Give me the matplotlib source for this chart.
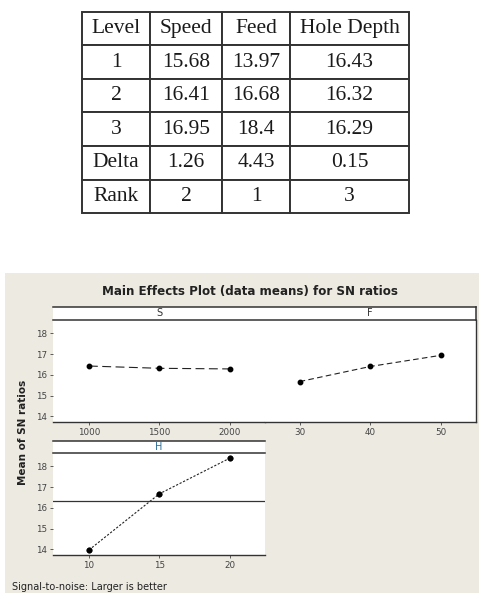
import numpy as np
import matplotlib
matplotlib.use("Agg")
import matplotlib.pyplot as plt
from matplotlib.patches import Rectangle

# table data
col_labels = ["Level", "Speed", "Feed", "Hole Depth"]
row_labels = ["1", "2", "3", "Delta", "Rank"]
speed = ["15.68", "16.41", "16.95", "1.26", "2"]
feed = ["13.97", "16.68", "18.4", "4.43", "1"]
hole_depth = ["16.43", "16.32", "16.29", "0.15", "3"]

# main effects plot data (as drawn)
s_levels = [1000, 1500, 2000]
s_means = [16.43, 16.32, 16.29]
f_levels = [30, 40, 50]
f_means = [15.68, 16.41, 16.95]
h_levels = [10, 15, 20]
h_means = [13.97, 16.68, 18.4]
y_ticks = [14, 15, 16, 17, 18]

W, H = 481, 593


def px(x0, y0, x1, y1):
    return [x0 / W, 1 - y1 / H, (x1 - x0) / W, (y1 - y0) / H]


fig = plt.figure(figsize=(W / 100, H / 100), dpi=100)
fig.patch.set_facecolor("white")

# ---- table ----
tax = fig.add_axes(px(82, 12, 409, 213))
tax.axis("off")
cells = [[r, a, b, c] for r, a, b, c in zip(row_labels, speed, feed, hole_depth)]
tbl = tax.table(cellText=cells, colLabels=col_labels, cellLoc="center",
                bbox=[0, 0, 1, 1],
                colWidths=[68, 72, 68, 119])
tbl.auto_set_font_size(False)
for (r, c), cell in tbl.get_celld().items():
    cell.set_linewidth(1.4)
    cell.set_edgecolor("#333333")
    cell.get_text().set_fontfamily("Liberation Serif")
    cell.get_text().set_fontsize(15.5)
    cell.get_text().set_color("#1a1a1a")

# ---- main effects panel ----
bg = Rectangle((5 / W, 0), 474 / W, 1 - 273 / H,
               transform=fig.transFigure, facecolor="#EDEAE2",
               edgecolor="none", zorder=-5)
fig.patches.append(bg)

fig.text(250 / W, 1 - 291 / H, "Main Effects Plot (data means) for SN ratios",
         ha="center", va="center", fontsize=8.6, fontweight="bold", color="#222222")

ylim = (13.73, 18.65)
tick_kw = dict(labelsize=6.3, colors="#444444", length=2.5, width=0.6, pad=1.5)


def strip(rect, labels, right=False):
    sax = fig.add_axes(px(*rect))
    sax.set_zorder(3)
    sax.set_facecolor("white")
    sax.set_xlim(rect[0], rect[2])
    sax.set_ylim(0, 1)
    sax.set_xticks([])
    sax.set_yticks([])
    sax.spines["left"].set_visible(False)
    sax.spines["right"].set_visible(right)
    for side in ["top", "bottom", "right"]:
        sax.spines[side].set_linewidth(1.1)
        sax.spines[side].set_color("#333333")
    for xc, lab, col in labels:
        sax.text(xc, 0.5, lab, ha="center", va="center", fontsize=7, color=col)
    return sax


def panel(rect, x, y, xlim, dashes, left=True, right=False):
    ax = fig.add_axes(px(*rect))
    ax.set_facecolor("white")
    ax.plot(x, y, color="#222222", lw=0.8, dashes=dashes,
            marker="o", markersize=3.2, markerfacecolor="black",
            markeredgecolor="black")
    ax.set_xlim(*xlim)
    ax.set_ylim(*ylim)
    ax.set_xticks(x)
    ax.set_xticklabels([str(v) for v in x])
    ax.set_yticks(y_ticks)
    ax.tick_params(axis="both", **tick_kw)
    ax.spines["top"].set_visible(False)
    ax.spines["left"].set_visible(False)
    ax.spines["right"].set_visible(right)
    ax.spines["bottom"].set_linewidth(1.0)
    ax.spines["bottom"].set_color("#333333")
    ax.spines["right"].set_linewidth(1.0)
    ax.spines["right"].set_color("#333333")
    if not left:
        ax.tick_params(axis="y", left=False, labelleft=False)
    return ax


strip((53, 307, 476, 320), [(159, "S", "#333333"), (370, "F", "#333333")],
      right=True)
panel((53, 320, 265, 422), s_levels, s_means, (745, 2250), (8, 4))
panel((265, 320, 476, 422), f_levels, f_means, (25.1, 54.9), (5, 3),
      left=False, right=True)

strip((53, 441, 265, 453), [(159, "H", "#2B6E9C")])
hax = panel((53, 453, 265, 555), h_levels, h_means, (7.45, 22.5), (2, 1.5))
hax.axhline(np.mean(h_means), color="#333333", lw=0.9)
hax.plot(h_levels, h_means, ls="none", marker="o", markersize=3.2, color="black")

fig.text(23 / W, 1 - 432 / H, "Mean of SN ratios", rotation=90, ha="center",
         va="center", fontsize=7.5, fontweight="bold", color="#222222")
fig.text(12 / W, 1 - 587 / H, "Signal-to-noise: Larger is better",
         ha="left", va="center", fontsize=7, color="#222222")

fig.savefig("out.png", dpi=100)
